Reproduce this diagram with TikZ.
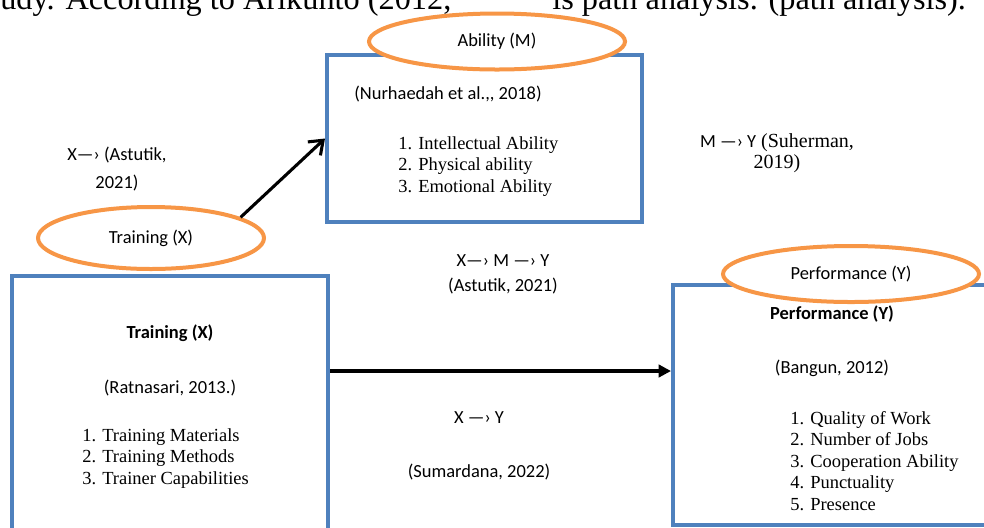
\documentclass[tikz,border=0pt]{standalone}
\usepackage{fontspec}
\setmainfont{Liberation Serif}
\newfontfamily\calib{Carlito}
\usetikzlibrary{shapes.geometric,arrows.meta}

\definecolor{boxblue}{HTML}{4F81BD}
\definecolor{ellorange}{HTML}{F79646}

\tikzset{
	varbox/.style={draw=boxblue, line width=2.6pt, rectangle, inner sep=0},
	varell/.style={draw=ellorange, fill=white, line width=2.6pt, ellipse, inner sep=0,
		font=\calib\fontsize{12pt}{14pt}\selectfont},
	cite/.style={font=\calib\fontsize{12pt}{14.4pt}\selectfont, align=center, inner sep=0},
	items/.style={font=\fontsize{12pt}{14pt}\selectfont, align=left, inner sep=0, anchor=west},
	link/.style={line width=2pt}
}

\begin{document}
\begin{tikzpicture}[x=0.65pt, y=-0.65pt]
\useasboundingbox (0,0) rectangle (984,527);
\clip (0,0) rectangle (984,527);

% page text above the figure, cut at the top
\node[anchor=base west, inner sep=0, font=\fontsize{21pt}{25pt}\selectfont] (pagetxta) at (0,9) {udy. According to Arikunto (2012,};
\node[anchor=base west, inner sep=0, font=\fontsize{21pt}{25pt}\selectfont] (pagetxtb) at (552,9) {is path analysis. (path analysis).};

% the three boxes
\node[varbox, minimum width=204.75pt, minimum height=108.55pt] (abil) at (484.5,138.5) {};
\node[varbox, minimum width=205.4pt, minimum height=174.85pt] (train) at (170,410.5) {};
\node[varbox, minimum width=212.55pt, minimum height=156pt] (perf) at (836.5,405) {};

% ellipses sit on top of the boxes
\node[varell, minimum width=166.4pt, minimum height=36.4pt] (abilell) at (497,41.5) {\raisebox{-1.5pt}{Ability (M)}};
\node[varell, minimum width=146.9pt, minimum height=40.3pt] (trainell) at (151,238) {\raisebox{-3.5pt}{Training (X)}};
\node[varell, minimum width=166.4pt, minimum height=36.4pt] (perfell) at (851,274) {Performance (Y)};

% box contents
\node[cite] (abilsrc) at (448,94) {(Nurhaedah et al.,, 2018)};
\node[items] (abillist) at (398,166.5) {1. Intellectual Ability\\2. Physical ability\\3. Emotional Ability};

\node[cite, font=\calib\bfseries\fontsize{12pt}{14.4pt}\selectfont] (traintitle) at (170,333) {Training (X)};
\node[cite] (trainsrc) at (170,388) {(Ratnasari, 2013.)};
\node[items] (trainlist) at (82,458.5) {1. Training Materials\\2. Training Methods\\3. Trainer Capabilities};

\node[cite, font=\calib\bfseries\fontsize{12pt}{14.4pt}\selectfont] (perftitle) at (832,314) {Performance (Y)};
\node[cite] (perfsrc) at (832,368) {(Bangun, 2012)};
\node[items] (perflist) at (790,461) {1. Quality of Work\\2. Number of Jobs\\3. Cooperation Ability\\4. Punctuality\\5. Presence};

% path labels
\node[cite, font=\calib\fontsize{12pt}{18.2pt}\selectfont] (xmlbl) at (117,169) {X—› (Astutik,\\2021)};
\node[cite, font=\calib\fontsize{12pt}{16.2pt}\selectfont] (xmylbl) at (503,274.5) {X—› M —› Y\\(Astutik, 2021)};
\node[cite] (xylbl) at (479,418) {X —› Y};
\node[cite] (xysrc) at (479,472) {(Sumardana, 2022)};
\node[cite, font=\fontsize{13pt}{13.5pt}\selectfont] (mylbl) at (777,153) {{\calib\fontsize{12pt}{13.5pt}\selectfont M —› Y} (Suherman,\\2019)};

% arrows
\draw[link, -{Straight Barb[length=8pt,width=12pt]}] (trainell.13) -- (abil.west);
\coordinate (xstart) at (330,371);
\draw[link, -{Triangle[length=8pt,width=8pt]}] (xstart) -- (xstart -| perf.west);
\end{tikzpicture}
\end{document}
